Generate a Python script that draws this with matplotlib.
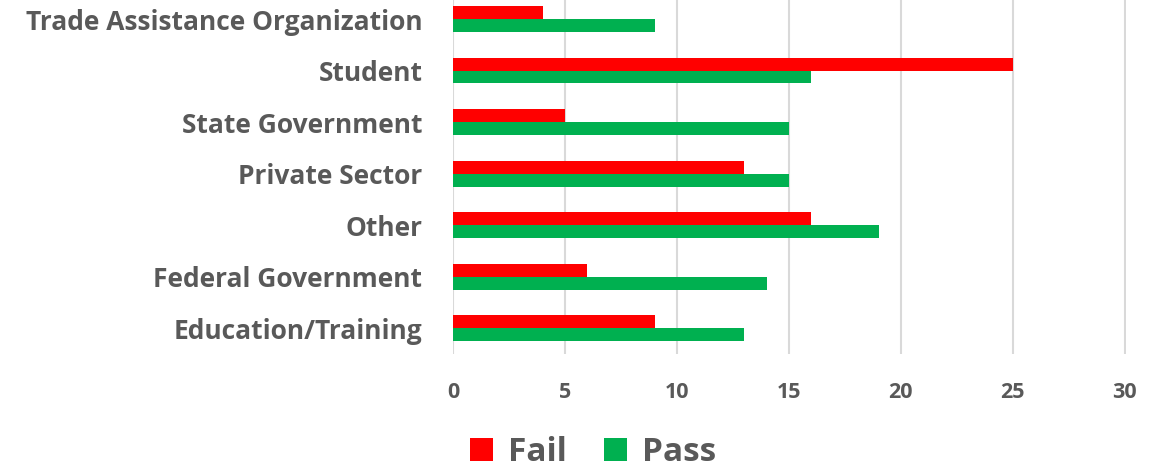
import matplotlib
matplotlib.use("Agg")
import matplotlib.pyplot as plt
import numpy as np

# Data, bottom to top as drawn.
categories = ["Education/Training", "Federal Government", "Other",
              "Private Sector", "State Government", "Student",
              "Trade Assistance Organization"]
fail = [9, 6, 16, 13, 5, 25, 4]
passed = [13, 14, 19, 15, 15, 16, 9]
xticks = [0, 5, 10, 15, 20, 25, 30]

plt.rcParams["font.family"] = ["Open Sans", "DejaVu Sans"]
plt.rcParams["font.weight"] = "bold"
text_col = "#595959"

fig = plt.figure(figsize=(11.67, 4.74), dpi=100)
ax = fig.add_axes([453 / 1167, 1 - 354 / 474, 673 / 1167, 354 / 474])

y = np.arange(len(categories))
h = 0.25
ax.barh(y + h / 2, fail, height=h, color="#ff0000", label="Fail", zorder=3)
ax.barh(y - h / 2, passed, height=h, color="#00b050", label="Pass", zorder=3)

ax.set_xlim(0, 30.05)
ax.set_ylim(-0.5, 6.37)
ax.set_xticks(xticks)
ax.set_yticks(y)
ax.set_yticklabels(categories)
ax.xaxis.grid(True, color="#d9d9d9", linewidth=1.5, zorder=0)
for s in ax.spines.values():
    s.set_visible(False)
ax.tick_params(axis="both", length=0, colors=text_col)
ax.tick_params(axis="x", labelsize=15.5, pad=20)
ax.tick_params(axis="y", labelsize=19, pad=22)
for lbl in ax.get_xticklabels() + ax.get_yticklabels():
    lbl.set_fontweight("bold")

fig.legend(loc="center", bbox_to_anchor=(0.508, 0.045), ncol=2, frameon=False,
           handlelength=0.7, handleheight=0.7, handletextpad=0.45,
           columnspacing=1.1, labelcolor=text_col, prop={"weight": "bold", "size": 24})

fig.savefig("out.png", dpi=100)
